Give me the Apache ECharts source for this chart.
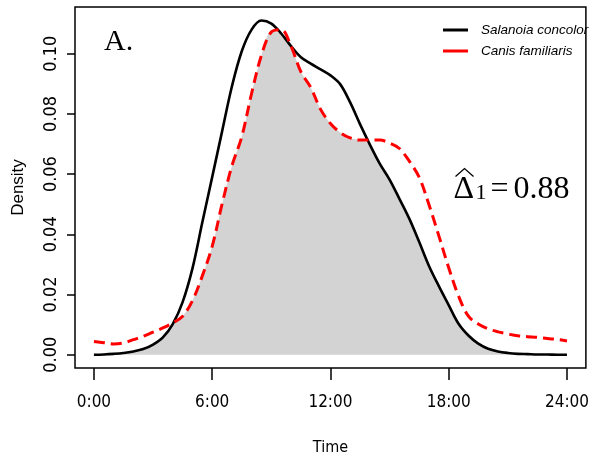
<!DOCTYPE html>
<html>
<head>
<meta charset="utf-8">
<script src="https://cdn.jsdelivr.net/npm/echarts@6/dist/echarts.min.js"></script>
<style>
html, body { margin: 0; padding: 0; background: #fff; }
#densityOverlap { width: 592px; height: 464px; }
</style>
</head>
<body>
<div id="densityOverlap"></div>
<script>
// activity kernel densities, time of day in hours
var hours = [0, 0.5, 1, 1.5, 2, 2.5, 3, 3.5, 4, 4.5, 5, 5.5, 6, 6.5, 7, 7.5, 8, 8.5, 9, 9.5,
  10, 10.5, 11, 11.5, 12, 12.5, 13, 13.5, 14, 14.5, 15, 15.5, 16, 16.5, 17, 17.5, 18, 18.5, 19, 19.5,
  20, 20.5, 21, 21.5, 22, 22.5, 23, 23.5, 24];
var salanoia = [0.0000, 0.0001, 0.0003, 0.0006, 0.0011, 0.0019, 0.0034, 0.0058, 0.0102, 0.0175,
  0.0287, 0.0440, 0.0590, 0.0741, 0.0891, 0.1008, 0.1080, 0.1110, 0.1100, 0.1067,
  0.1025, 0.0988, 0.0967, 0.0948, 0.0928, 0.0898, 0.0838, 0.0766, 0.0698, 0.0635,
  0.0582, 0.0518, 0.0452, 0.0375, 0.0295, 0.0228, 0.0165, 0.0103, 0.0064, 0.0037,
  0.0020, 0.0011, 0.0006, 0.0003, 0.0002, 0.0001, 0.0001, 0.0000, 0.0000];
var canis = [0.0044, 0.0040, 0.0036, 0.0039, 0.0050, 0.0061, 0.0075, 0.0089, 0.0106, 0.0128,
  0.0180, 0.0262, 0.0360, 0.0500, 0.0627, 0.0724, 0.0868, 0.0995, 0.1072, 0.1080,
  0.1025, 0.0940, 0.0888, 0.0815, 0.0768, 0.0738, 0.0720, 0.0713, 0.0713, 0.0713,
  0.0703, 0.0685, 0.0643, 0.0590, 0.0498, 0.0395, 0.0289, 0.0195, 0.0128, 0.0102,
  0.0086, 0.0076, 0.0069, 0.0063, 0.0060, 0.0058, 0.0054, 0.0051, 0.0046];
var xTicks = [0, 6, 12, 18, 24];
var yTicks = [0, 0.02, 0.04, 0.06, 0.08, 0.10];
var speciesNames = ['Salanoia concolor', 'Canis familiaris'];
var overlapValue = '0.88';

var narrowFont = '"Liberation Sans Narrow", "DejaVu Sans Condensed", "Liberation Sans", sans-serif';
var sansFont = '"Liberation Sans", Arial, sans-serif';
var serifFont = '"Liberation Serif", "DejaVu Serif", serif';

var salanoiaData = [];
var canisData = [];
var overlapData = [];
hours.forEach(function (h, i) {
  salanoiaData.push([h, salanoia[i]]);
  canisData.push([h, canis[i]]);
  // shaded overlap = the lower of the two densities
  overlapData.push([h, Math.min(salanoia[i], canis[i])]);
});

var chartDom = document.getElementById('densityOverlap');
var myChart = echarts.init(chartDom, null, { renderer: 'canvas' });
var option = {
  animation: false,
  backgroundColor: '#fff',
  grid: {
    left: 75,
    right: 1,
    top: 7,
    bottom: 96,
    show: true,
    borderColor: '#000',
    borderWidth: 1.5,
    backgroundColor: 'transparent',
  },
  legend: {
    data: [
      { name: speciesNames[0], itemStyle: { color: '#000' } },
      { name: speciesNames[1], itemStyle: { color: '#ff0000' } },
    ],
    orient: 'vertical',
    left: 443,
    top: 22,
    padding: 0,
    icon: 'rect',
    itemWidth: 25,
    itemHeight: 3,
    itemGap: 5,
    textStyle: {
      fontFamily: sansFont,
      fontStyle: 'italic',
      fontSize: 13.5,
      lineHeight: 16,
      color: '#000',
      padding: [0, 0, 0, 8],
    },
  },
  xAxis: {
    type: 'value',
    min: -0.96,
    max: 24.96,
    name: 'Time',
    nameLocation: 'middle',
    nameGap: 72,
    nameTextStyle: { fontFamily: narrowFont, fontSize: 16, color: '#000' },
    axisLine: { show: false, onZero: false },
    splitLine: { show: false },
    axisTick: {
      show: true,
      length: 12,
      customValues: xTicks,
      lineStyle: { color: '#000', width: 1.5 },
    },
    axisLabel: {
      customValues: xTicks,
      margin: 26,
      fontFamily: narrowFont,
      fontSize: 17,
      color: '#000',
      formatter: function (v) {
        return v + ':00';
      },
    },
  },
  yAxis: {
    type: 'value',
    min: -0.0044,
    max: 0.1155,
    name: 'Density',
    nameLocation: 'middle',
    nameGap: 48,
    nameTextStyle: { fontFamily: sansFont, fontSize: 17, color: '#000' },
    axisLine: { show: false, onZero: false },
    splitLine: { show: false },
    axisTick: {
      show: true,
      length: 8,
      customValues: yTicks,
      lineStyle: { color: '#000', width: 1.5 },
    },
    axisLabel: {
      customValues: yTicks,
      rotate: 90,
      margin: 15,
      fontFamily: narrowFont,
      fontSize: 18,
      color: '#000',
      formatter: function (v) {
        return v.toFixed(2);
      },
    },
  },
  series: [
    {
      name: 'overlap',
      type: 'line',
      data: overlapData,
      smooth: 0.35,
      showSymbol: false,
      silent: true,
      lineStyle: { width: 0, opacity: 0 },
      areaStyle: { color: '#d3d3d3', opacity: 1 },
      z: 1,
    },
    {
      name: speciesNames[0],
      type: 'line',
      data: salanoiaData,
      smooth: 0.35,
      showSymbol: false,
      color: '#000',
      lineStyle: { color: '#000', width: 2.6 },
      z: 2,
    },
    {
      name: speciesNames[1],
      type: 'line',
      data: canisData,
      smooth: 0.35,
      showSymbol: false,
      color: '#ff0000',
      lineStyle: { color: '#ff0000', width: 3, type: [11, 6] },
      z: 3,
    },
  ],
  graphic: [
    {
      type: 'text',
      left: 104,
      top: 27,
      style: { text: 'A.', font: '30px ' + serifFont, fill: '#000' },
    },
    {
      type: 'group',
      left: 453,
      top: 166,
      children: [
        {
          type: 'polyline',
          shape: { points: [[2, 11], [11, 3], [20, 11]] },
          style: { stroke: '#000', lineWidth: 1.3, fill: null },
        },
        {
          type: 'text',
          x: 0,
          y: 8,
          style: { text: 'Δ', font: '32px ' + serifFont, fill: '#000' },
        },
        {
          type: 'text',
          x: 22,
          y: 17,
          style: { text: '1', font: '22px ' + serifFont, fill: '#000' },
        },
        {
          type: 'text',
          x: 37,
          y: 8,
          style: { text: '=', font: '32px ' + serifFont, fill: '#000' },
        },
        {
          type: 'text',
          x: 60,
          y: 8,
          style: { text: overlapValue, font: '32px ' + serifFont, fill: '#000' },
        },
      ],
    },
  ],
};

option && myChart.setOption(option);
</script>
</body>
</html>
